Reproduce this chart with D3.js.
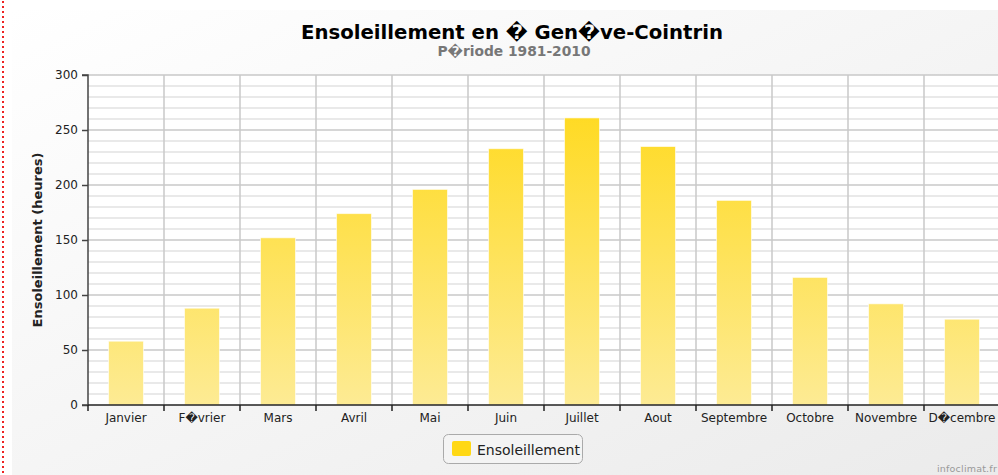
<!DOCTYPE html>
<html><head><meta charset="utf-8">
<script src="https://cdn.jsdelivr.net/npm/d3@7/dist/d3.min.js"></script>
<style>body{margin:0;background:#fff;}svg{display:block;}</style>
</head><body>
<svg id="c" width="998" height="475"></svg>
<script>
const categories = ["Janvier","F\uFFFDvrier","Mars","Avril","Mai","Juin","Juillet","Aout","Septembre","Octobre","Novembre","D\uFFFDcembre"];
const sunshine = [58, 88, 152, 174, 196, 233, 261, 235, 186, 116, 92, 78];
const yTicks = [0, 50, 100, 150, 200, 250, 300];
const titleText = "Ensoleillement en \uFFFD Gen\uFFFDve-Cointrin";
const subtitleText = "P\uFFFDriode 1981-2010";
const yTitle = "Ensoleillement (heures)";
const seriesName = "Ensoleillement";

const svg = d3.select("#c");
const W = 998, H = 475;
const m = {left: 88, top: 75, right: 1000, bottom: 405};
const font = "'DejaVu Sans', Verdana, sans-serif";

const defs = svg.append("defs");
const bg = defs.append("linearGradient").attr("id","bg").attr("x1","0").attr("y1","0").attr("x2","1").attr("y2","1");
bg.append("stop").attr("offset","0").attr("stop-color","#ffffff");
bg.append("stop").attr("offset","1").attr("stop-color","#ebebeb");
const bar = defs.append("linearGradient").attr("id","bar").attr("gradientUnits","userSpaceOnUse")
  .attr("x1",0).attr("y1",m.top).attr("x2",0).attr("y2",m.bottom);
bar.append("stop").attr("offset","0").attr("stop-color","#ffd814");
bar.append("stop").attr("offset","1").attr("stop-color","#fdeb94");

// background
svg.append("rect").attr("x",12).attr("y",10).attr("width",W-12).attr("height",H-10).attr("fill","url(#bg)");
svg.append("line").attr("x1",3).attr("x2",3).attr("y1",1).attr("y2",H)
  .attr("stroke","#ee2222").attr("stroke-width",2).attr("stroke-dasharray","2,3");

const x = d3.scaleBand().domain(categories).range([m.left, m.right]).paddingInner(0.54).paddingOuter(0.27);
const y = d3.scaleLinear().domain([0, 300]).range([m.bottom, m.top]);

// plot bg
svg.append("rect").attr("x",m.left).attr("y",m.top).attr("width",m.right-m.left).attr("height",m.bottom-m.top).attr("fill","#fff");

// minor grid
const minor = d3.range(10, 300, 10).filter(v => v % 50 !== 0);
svg.append("g").selectAll("line").data(minor).join("line")
  .attr("x1",m.left).attr("x2",m.right).attr("y1",d=>y(d)).attr("y2",d=>y(d))
  .attr("stroke","#e2e2e2").attr("stroke-width",1.5);
svg.append("g").selectAll("line").data(yTicks.filter(v=>v>0)).join("line")
  .attr("x1",m.left).attr("x2",m.right).attr("y1",d=>y(d)).attr("y2",d=>y(d))
  .attr("stroke","#c9c9c9").attr("stroke-width",1.5);
// vertical grid at category boundaries
const step = x.step();
svg.append("g").selectAll("line").data(categories.slice(1)).join("line")
  .attr("x1",d=>x(d)-x.paddingInner()*step/2).attr("x2",d=>x(d)-x.paddingInner()*step/2)
  .attr("y1",m.top).attr("y2",m.bottom)
  .attr("stroke","#c9c9c9").attr("stroke-width",1.5);

// bars
svg.append("g").selectAll("rect").data(sunshine).join("rect")
  .attr("x",(d,i)=>x(categories[i])).attr("width",x.bandwidth())
  .attr("y",d=>y(d)).attr("height",d=>y(0)-y(d))
  .attr("fill","url(#bar)").attr("stroke","rgba(255,255,255,0.6)").attr("stroke-width",1);

// y axis
const yAxis = d3.axisLeft(y).tickValues(yTicks).tickSize(6).tickPadding(4);
const gy = svg.append("g").attr("transform",`translate(${m.left},0)`).call(yAxis);
gy.select(".domain").attr("stroke","#444").attr("stroke-width",1.5).attr("d",`M-6,${m.top}H0V${m.bottom}H-6`);
gy.selectAll(".tick line").attr("stroke","#444").attr("stroke-width",1.5);
gy.selectAll("text").attr("font-family",font).attr("font-size",12).attr("fill","#222");

// x axis
const xAxis = d3.axisBottom(x).tickSize(0).tickPadding(8);
const gx = svg.append("g").attr("transform",`translate(0,${m.bottom})`).call(xAxis);
gx.select(".domain").attr("stroke","#222").attr("stroke-width",1.5).attr("d",`M${m.left},0H${m.right}`);
gx.selectAll("text").attr("font-family",font).attr("font-size",12).attr("fill","#222");
// category boundary ticks
svg.append("g").selectAll("line").data(categories).join("line")
  .attr("x1",d=>x(d)-x.paddingInner()*step/2).attr("x2",d=>x(d)-x.paddingInner()*step/2)
  .attr("y1",m.bottom).attr("y2",m.bottom+6).attr("stroke","#222").attr("stroke-width",1.5);

// titles
svg.append("text").attr("x",512).attr("y",39).attr("text-anchor","middle")
  .attr("font-family",font).attr("font-weight","bold").attr("font-size",19.7).attr("fill","#000").text(titleText);
svg.append("text").attr("x",514).attr("y",56).attr("text-anchor","middle")
  .attr("font-family",font).attr("font-weight","bold").attr("font-size",13.8).attr("fill","#777").text(subtitleText);
svg.append("text").attr("transform","translate(42,240) rotate(-90)").attr("text-anchor","middle")
  .attr("font-family",font).attr("font-weight","bold").attr("font-size",13).attr("fill","#222").text(yTitle);

// legend
svg.append("rect").attr("x",443.5).attr("y",434.5).attr("width",139).attr("height",29).attr("rx",5)
  .attr("fill","#f4f4f4").attr("stroke","#aaa").attr("stroke-width",1);
svg.append("rect").attr("x",452).attr("y",441).attr("width",19).attr("height",15).attr("rx",2).attr("fill","#ffd814");
svg.append("text").attr("x",477).attr("y",455).attr("font-family",font).attr("font-size",14).attr("fill","#222").text(seriesName);

// credit
svg.append("text").attr("x",937).attr("y",472).attr("font-family",font).attr("font-size",9.5).attr("letter-spacing",0.2).attr("fill","#999").text("infoclimat.fr");
</script>
</body></html>
